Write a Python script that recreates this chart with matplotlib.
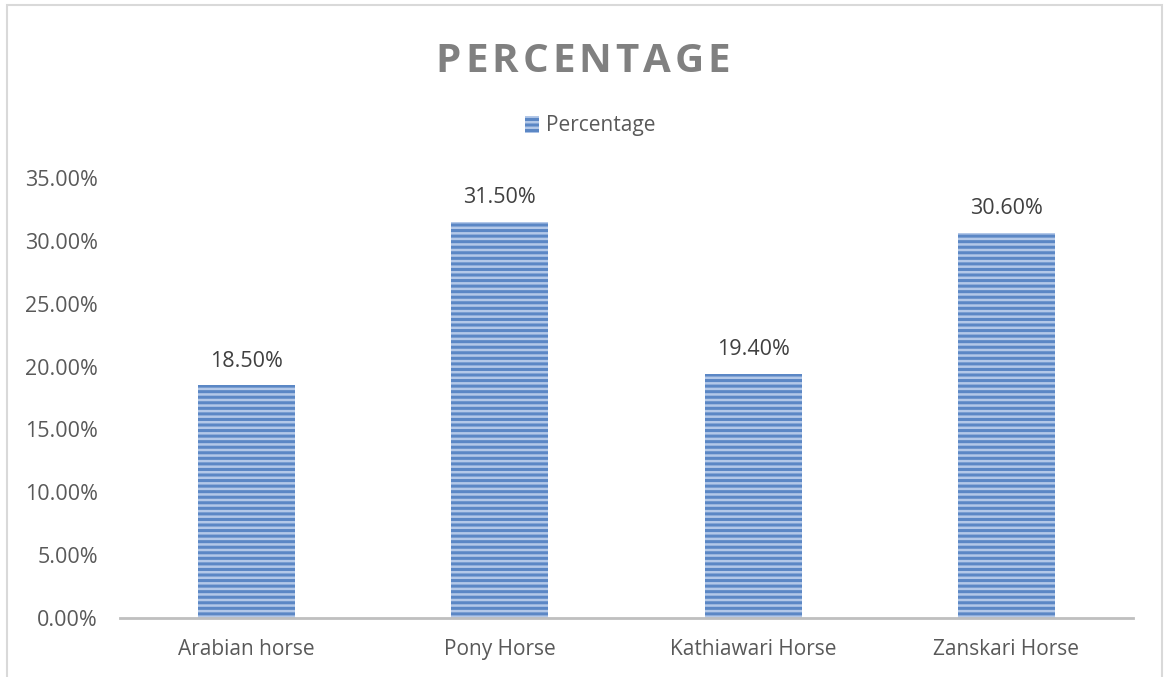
#!/usr/bin/env python3
import matplotlib
matplotlib.use("Agg")
import matplotlib.pyplot as plt
from matplotlib.patches import Rectangle
from matplotlib.ticker import FuncFormatter

breeds = ["Arabian horse", "Pony Horse", "Kathiawari Horse", "Zanskari Horse"]
percentages = [18.5, 31.5, 19.4, 30.6]
y_ticks = [0, 5, 10, 15, 20, 25, 30, 35]
series_name = "Percentage"
title_text = "PERCENTAGE"

W, H = 1166, 677
plt.rcParams["font.family"] = ["Open Sans", "DejaVu Sans"]
plt.rcParams["hatch.linewidth"] = 2.2

fig = plt.figure(figsize=(W / 100, H / 100), dpi=100)
ax = fig.add_axes([120 / W, 1 - 618 / H, (1133 - 120) / W, (618 - 178) / H])

bars = ax.bar(range(len(breeds)), percentages, width=0.383,
              color="#b3c8e8", edgecolor="#5b87c5", linewidth=0, hatch="---")

for i, v in enumerate(percentages):
    ax.annotate(f"{v:.2f}%", (i, v), xytext=(0, 10), textcoords="offset points",
                ha="center", va="bottom", fontsize=15.5, color="#404040")

ax.set_xlim(-0.5, len(breeds) - 0.5)
ax.set_ylim(0, 35)
ax.set_yticks(y_ticks)
ax.yaxis.set_major_formatter(FuncFormatter(lambda v, _: f"{v:.2f}%"))
ax.set_xticks(range(len(breeds)))
ax.set_xticklabels(breeds)
ax.tick_params(axis="both", length=0, labelcolor="#595959")
ax.tick_params(axis="y", pad=16, labelsize=15.5)
ax.tick_params(axis="x", pad=15, labelsize=15)
for side in ["top", "right", "left"]:
    ax.spines[side].set_visible(False)
ax.spines["bottom"].set_color("#bfbfbf")
ax.spines["bottom"].set_linewidth(2)
ax.patch.set_alpha(0)

# legend
fig.legend([bars[0]], [series_name], loc="center", bbox_to_anchor=(590 / W, 1 - 126 / H),
           frameon=False, fontsize=15, labelcolor="#595959", handlelength=0.7,
           handleheight=0.85, handletextpad=0.3)

# title with letter spacing
fig.canvas.draw()
renderer = fig.canvas.get_renderer()
letters = []
widths = []
for ch in title_text:
    t = fig.text(0, 0, ch, fontsize=29, fontweight="bold", color="#808080")
    widths.append(t.get_window_extent(renderer).width)
    letters.append(t)
spacing = 4
total = sum(widths) + spacing * (len(widths) - 1)
x = 583 - total / 2
for t, w in zip(letters, widths):
    t.set_position((x / W, 1 - 72 / H))
    t.set_va("baseline")
    x += w + spacing

# chart border
fig.patches.append(Rectangle((7 / W, -0.05), (1162 - 7) / W, 1.05 - 5 / H,
                             transform=fig.transFigure, fill=False,
                             edgecolor="#d9d9d9", linewidth=1.5))

fig.savefig("out.png", dpi=100)
